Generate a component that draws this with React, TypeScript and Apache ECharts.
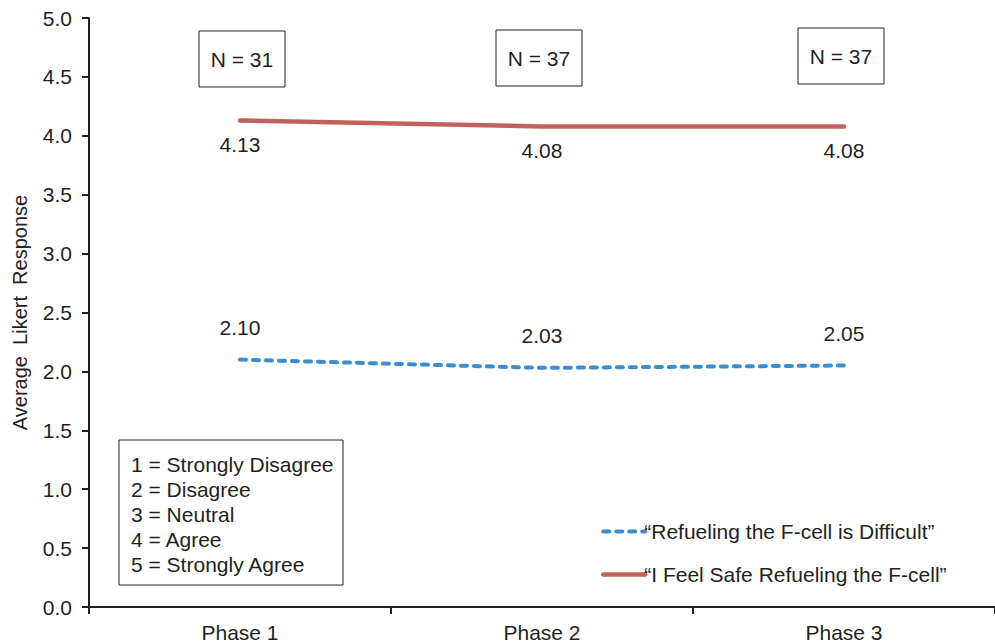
import React, { useEffect, useRef } from "react";
import * as echarts from "echarts";

const categories = ["Phase 1", "Phase 2", "Phase 3"];
const difficultValues = [2.1, 2.03, 2.05];
const safeValues = [4.13, 4.08, 4.08];
const sampleSizes = ["N = 31", "N = 37", "N = 37"];
const scaleKey = [
  "1 = Strongly Disagree",
  "2 = Disagree",
  "3 = Neutral",
  "4 = Agree",
  "5 = Strongly Agree",
];
const seriesNames = [
  "\u201cRefueling the F-cell is Difficult\u201d",
  "\u201cI Feel Safe Refueling the F-cell\u201d",
];

const FONT = "Liberation Sans, Arial, sans-serif";
const TXT = "#231f20";
const FS = 21;
const BLUE = "#3c8dce";
const RED = "#c0615c";

export default function App() {
  const ref = useRef<HTMLDivElement>(null);
  useEffect(() => {
    if (!ref.current) return;
    const chart = echarts.init(ref.current, undefined, { renderer: "svg" });
    const nBoxes = [
      { x: 199, y: 31 },
      { x: 496, y: 30 },
      { x: 798, y: 28 },
    ];
    const graphic: any[] = [];
    nBoxes.forEach((b, i) => {
      graphic.push({
        type: "rect",
        x: b.x,
        y: b.y,
        shape: { x: 0, y: 0, width: 86, height: 56 },
        style: { fill: "#fff", stroke: "#231f20", lineWidth: 1 },
      });
      graphic.push({
        type: "text",
        x: b.x + 43,
        y: b.y + 28,
        style: {
          text: sampleSizes[i],
          font: `${FS}px ${FONT}`,
          fill: TXT,
          align: "center",
          verticalAlign: "middle",
        },
      });
    });
    graphic.push({
      type: "rect",
      x: 119,
      y: 440,
      shape: { x: 0, y: 0, width: 224, height: 145 },
      style: { fill: "#fff", stroke: "#231f20", lineWidth: 1 },
    });
    scaleKey.forEach((t, i) => {
      graphic.push({
        type: "text",
        x: 131,
        y: 464 + i * 25,
        style: { text: t, font: `${FS}px ${FONT}`, fill: TXT, verticalAlign: "middle" },
      });
    });

    chart.setOption({
      animation: false,
      textStyle: { fontFamily: FONT },
      grid: { left: 89, right: 0, top: 18, bottom: 37, containLabel: false, outerBoundsMode: "none" },
      legend: {
        orient: "vertical",
        left: 596,
        top: 516,
        itemWidth: 42,
        itemHeight: 16,
        itemGap: 22,
        textStyle: { fontSize: FS, color: TXT, fontFamily: FONT, padding: [0, 0, 0, -6] },
        data: [
          {
            name: seriesNames[0],
            lineStyle: { color: BLUE, width: 4, type: [6, 7], cap: "round" },
          },
          {
            name: seriesNames[1],
            lineStyle: { color: RED, width: 4.5, cap: "round" },
          },
        ],
      },
      xAxis: {
        type: "category",
        data: categories,
        boundaryGap: true,
        axisLine: { lineStyle: { color: "#231f20", width: 2 } },
        axisTick: { show: true, length: 7, inside: false, lineStyle: { color: "#231f20", width: 2 } },
        axisLabel: { fontSize: FS, color: TXT, margin: 15, fontFamily: FONT },
      },
      yAxis: {
        type: "value",
        min: 0,
        max: 5,
        interval: 0.5,
        name: "Average  Likert  Response",
        nameLocation: "middle",
        nameGap: 59,
        nameTextStyle: { fontSize: 20, color: TXT, fontFamily: FONT },
        splitLine: { show: false },
        axisLine: { show: true, lineStyle: { color: "#231f20", width: 2 } },
        axisTick: { show: true, length: 7, lineStyle: { color: "#231f20", width: 2 } },
        axisLabel: {
          fontSize: FS,
          color: TXT,
          margin: 17,
          fontFamily: FONT,
          formatter: (v: number) => v.toFixed(1),
        },
      },
      series: [
        {
          name: seriesNames[0],
          type: "line",
          data: difficultValues,
          symbol: "circle",
          symbolSize: 1,
          showSymbol: true,
          lineStyle: { color: BLUE, width: 4, type: [6, 7], cap: "round" },
          itemStyle: { color: BLUE, opacity: 0 },
          label: {
            show: true,
            position: "top",
            distance: 21,
            fontSize: FS,
            color: TXT,
            opacity: 1,
            formatter: (p: any) => p.value.toFixed(2),
          },
        },
        {
          name: seriesNames[1],
          type: "line",
          data: safeValues,
          symbol: "circle",
          symbolSize: 1,
          showSymbol: true,
          lineStyle: { color: RED, width: 4.5, cap: "round" },
          itemStyle: { color: RED, opacity: 0 },
          label: {
            show: true,
            position: "bottom",
            distance: 13,
            fontSize: FS,
            color: TXT,
            opacity: 1,
            formatter: (p: any) => p.value.toFixed(2),
          },
        },
      ],
      graphic,
    });
    return () => chart.dispose();
  }, []);
  return <div ref={ref} style={{ width: 995, height: 644, position: "absolute", left: 0, top: 0 }} />;
}
